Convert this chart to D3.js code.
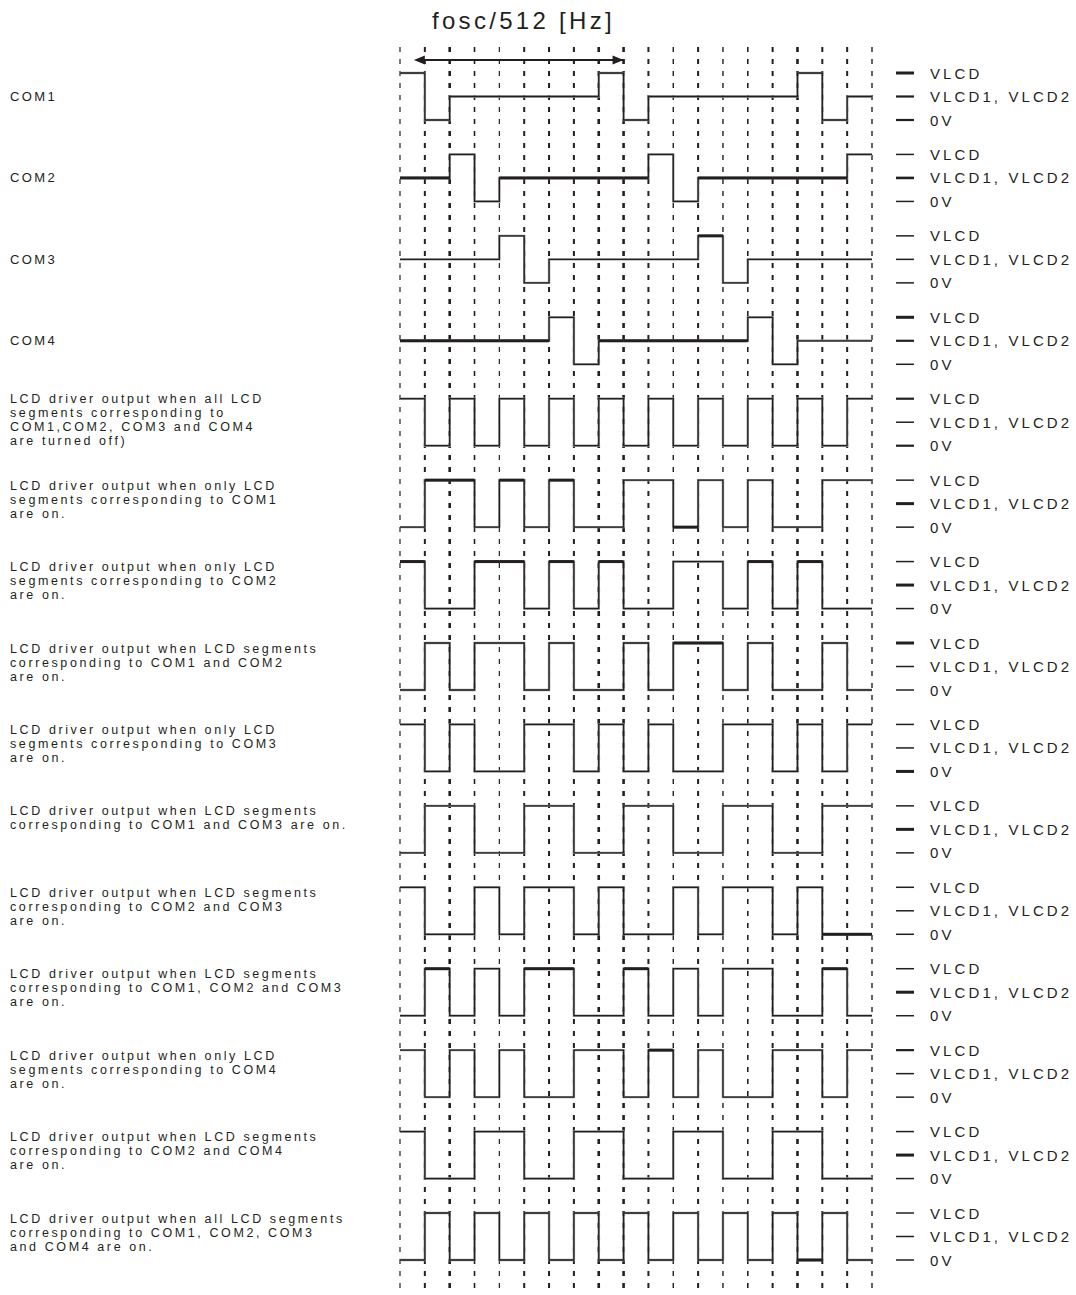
<!DOCTYPE html>
<html>
<head>
<meta charset="utf-8">
<script src="https://cdn.jsdelivr.net/npm/d3@7"></script>
<style>
  body { margin: 0; background: #fff; }
</style>
</head>
<body>
<script>
const width = 1076;
const height = 1295;

// level codes: 2 = VLCD, 1 = VLCD1/VLCD2, 0 = 0V (one value per time slot)
const rowLabels = [
  ['COM1'],
  ['COM2'],
  ['COM3'],
  ['COM4'],
  ['LCD driver output when all LCD', 'segments corresponding to', 'COM1,COM2, COM3 and COM4', 'are turned off)'],
  ['LCD driver output when only LCD', 'segments corresponding to COM1', 'are on.'],
  ['LCD driver output when only LCD', 'segments corresponding to COM2', 'are on.'],
  ['LCD driver output when LCD segments', 'corresponding to COM1 and COM2', 'are on.'],
  ['LCD driver output when only LCD', 'segments corresponding to COM3', 'are on.'],
  ['LCD driver output when LCD segments', 'corresponding to COM1 and COM3 are on.'],
  ['LCD driver output when LCD segments', 'corresponding to COM2 and COM3', 'are on.'],
  ['LCD driver output when LCD segments', 'corresponding to COM1, COM2 and COM3', 'are on.'],
  ['LCD driver output when only LCD', 'segments corresponding to COM4', 'are on.'],
  ['LCD driver output when LCD segments', 'corresponding to COM2 and COM4', 'are on.'],
  ['LCD driver output when all LCD segments', 'corresponding to COM1, COM2, COM3', 'and COM4 are on.'],
];

const rowLevels = [
  [2, 0, 1, 1, 1, 1, 1, 1, 2, 0, 1, 1, 1, 1, 1, 1, 2, 0, 1],
  [1, 1, 2, 0, 1, 1, 1, 1, 1, 1, 2, 0, 1, 1, 1, 1, 1, 1, 2],
  [1, 1, 1, 1, 2, 0, 1, 1, 1, 1, 1, 1, 2, 0, 1, 1, 1, 1, 1],
  [1, 1, 1, 1, 1, 1, 2, 0, 1, 1, 1, 1, 1, 1, 2, 0, 1, 1, 1],
  [2, 0, 2, 0, 2, 0, 2, 0, 2, 0, 2, 0, 2, 0, 2, 0, 2, 0, 2],
  [0, 2, 2, 0, 2, 0, 2, 0, 0, 2, 2, 0, 2, 0, 2, 0, 0, 2, 2],
  [2, 0, 0, 2, 2, 0, 2, 0, 2, 0, 0, 2, 2, 0, 2, 0, 2, 0, 0],
  [0, 2, 0, 2, 2, 0, 2, 0, 0, 2, 0, 2, 2, 0, 2, 0, 0, 2, 0],
  [2, 0, 2, 0, 0, 2, 2, 0, 2, 0, 2, 0, 0, 2, 2, 0, 2, 0, 2],
  [0, 2, 2, 0, 0, 2, 2, 0, 0, 2, 2, 0, 0, 2, 2, 0, 0, 2, 2],
  [2, 0, 0, 2, 0, 2, 2, 0, 2, 0, 0, 2, 0, 2, 2, 0, 2, 0, 0],
  [0, 2, 0, 2, 0, 2, 2, 0, 0, 2, 0, 2, 0, 2, 2, 0, 0, 2, 0],
  [2, 0, 2, 0, 2, 0, 0, 2, 2, 0, 2, 0, 2, 0, 0, 2, 2, 0, 2],
  [2, 0, 0, 2, 2, 0, 0, 2, 2, 0, 0, 2, 2, 0, 0, 2, 2, 0, 0],
  [0, 2, 0, 2, 0, 2, 0, 2, 0, 2, 0, 2, 0, 2, 0, 2, 0, 2, 0],
];

// slots that are drawn with a heavier stroke in the original
const boldSlots = [
  [],
  [0, 1, 4, 5, 6, 7, 8, 9, 12, 13, 14, 15, 16, 17],
  [12],
  [0, 1, 2, 3, 4, 5, 8, 9, 10, 11, 12, 13],
  [],
  [1, 2, 4, 6, 11],
  [0, 3, 4, 6, 8, 14, 16],
  [11, 12],
  [],
  [],
  [17, 18],
  [1, 5, 6, 9, 17],
  [10],
  [],
  [16],
];

const levelNames = ['VLCD', 'VLCD1, VLCD2', '0V'];
const legendWidths = [
  [3, 2.2, 2.2], [1.5, 2.6, 1.5], [1.5, 1.5, 1.5], [3, 2.2, 1.5], [2.2, 1.5, 2.2],
  [1.5, 3, 1.5], [1.5, 3, 1.5], [3, 1.5, 1.5], [1.5, 1.5, 3], [1.5, 3, 1.5],
  [1.5, 1.5, 1.5], [1.5, 3, 1.5], [2.2, 1.5, 1.5], [1.5, 3, 1.5], [1.5, 1.5, 1.5],
];

const slotCount = 19;
const gridWidths = [1.2, 2, 2.6, 1.6, 1.2, 2, 2, 2, 2.6, 2.6, 2, 1.4, 2, 1.4, 1.6, 2, 2.6, 2, 2, 1.4];

const ink = '#231f20';
const font = 'Liberation Sans, Arial, sans-serif';

const svg = d3.select('body')
  .append('svg')
  .attr('width', width)
  .attr('height', height)
  .attr('viewBox', `0 0 ${width} ${height}`);

const x = d3.scaleLinear().domain([0, slotCount]).range([400, 872]);
const rowY = d3.scaleLinear().domain([0, rowLevels.length - 1]).range([73, 1213]);
const levelY = d3.scaleLinear().domain([2, 0]).range([0, 47]);

// dashed time grid
svg.append('g')
  .selectAll('line')
  .data(d3.range(slotCount + 1))
  .join('line')
  .attr('x1', (d) => x(d))
  .attr('x2', (d) => x(d))
  .attr('y1', 47)
  .attr('y2', height)
  .attr('stroke', ink)
  .attr('stroke-width', (d) => gridWidths[d])
  .attr('stroke-dasharray', '5,7');

// title + period arrow
svg.append('text')
  .attr('x', 432)
  .attr('y', 29)
  .attr('font-family', font)
  .attr('font-size', '24px')
  .attr('letter-spacing', '3.3px')
  .attr('fill', ink)
  .text('fosc/512 [Hz]');

const defs = svg.append('defs');
['start', 'end'].forEach((k) => {
  defs.append('marker')
    .attr('id', 'arrow-' + k)
    .attr('viewBox', '0 0 10 10')
    .attr('refX', k === 'end' ? 10 : 0)
    .attr('refY', 5)
    .attr('markerWidth', 6)
    .attr('markerHeight', 5)
    .attr('markerUnits', 'strokeWidth')
    .attr('orient', 'auto-start-reverse')
    .append('path')
    .attr('d', 'M0,1 L10,5 L0,9 z')
    .attr('fill', ink);
});

svg.append('line')
  .attr('x1', x(1))
  .attr('x2', x(9))
  .attr('y1', 60)
  .attr('y2', 60)
  .attr('stroke', ink)
  .attr('stroke-width', 2.2)
  .attr('marker-start', 'url(#arrow-start)')
  .attr('marker-end', 'url(#arrow-end)');

const line = d3.line()
  .x((d) => x(d.t))
  .y((d) => levelY(d.v))
  .curve(d3.curveStepAfter);

rowLevels.forEach((levels, r) => {
  const g = svg.append('g').attr('transform', `translate(0, ${rowY(r)})`);
  const pts = levels.map((v, i) => ({ t: i, v: v }));
  pts.push({ t: slotCount, v: levels[levels.length - 1] });

  // soft grey halo like the scanned original
  g.append('path')
    .attr('d', line(pts))
    .attr('fill', 'none')
    .attr('stroke', '#9a9a9a')
    .attr('stroke-width', 2.4);

  g.append('path')
    .attr('d', line(pts))
    .attr('fill', 'none')
    .attr('stroke', ink)
    .attr('stroke-width', 1.3);

  g.selectAll('line.bold')
    .data(boldSlots[r])
    .join('line')
    .attr('class', 'bold')
    .attr('x1', (d) => x(d))
    .attr('x2', (d) => x(d + 1))
    .attr('y1', (d) => levelY(levels[d]))
    .attr('y2', (d) => levelY(levels[d]))
    .attr('stroke', ink)
    .attr('stroke-width', 3);

  // level legend on the right
  levelNames.forEach((name, k) => {
    const v = 2 - k;
    g.append('line')
      .attr('x1', 896)
      .attr('x2', 914)
      .attr('y1', levelY(v))
      .attr('y2', levelY(v))
      .attr('stroke', ink)
      .attr('stroke-width', legendWidths[r][k]);
    g.append('text')
      .attr('x', 930)
      .attr('y', levelY(v) + 5.5)
      .attr('font-family', font)
      .attr('font-size', '15px')
      .attr('letter-spacing', '3.1px')
      .attr('fill', ink)
      .text(name);
  });

  // description on the left
  const lines = rowLabels[r];
  const lh = 14;
  const text = g.append('text')
    .attr('font-family', font)
    .attr('font-size', lines.length === 1 ? '13px' : '12.5px')
    .attr('letter-spacing', lines.length === 1 ? '2.4px' : '2.6px')
    .attr('fill', ink);
  lines.forEach((s, j) => {
    let yc;
    if (lines.length === 1) yc = levelY(1);
    else yc = (lines.length > 3 ? 0 : 5) + j * lh;
    text.append('tspan')
      .attr('x', 10)
      .attr('y', yc + 4.5)
      .text(s);
  });
});
</script>
</body>
</html>
